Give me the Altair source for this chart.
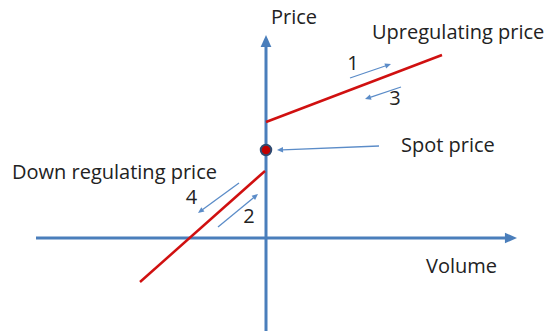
import altair as alt
import pandas as pd
import numpy as np

# Coordinate system: origin at axes crossing, units ~ volume / price (arbitrary)
# Axes (start -> tip)
axis_x1 = [-23.0, 0.0]
axis_y1 = [0.0, -9.3]
axis_x2 = [25.1, 0.0]
axis_y2 = [0.0, 20.3]

# Red price curves
curve_x1 = [0.0, -12.6]
curve_y1 = [11.6, -4.4]
curve_x2 = [17.6, -0.1]
curve_y2 = [18.3, 6.7]

# Small arrows (start -> tip): 1, 3, spot, 4, 2
arr_x1 = [8.4, 13.5, 11.3, -2.7, -4.8]
arr_y1 = [16.0, 15.1, 9.2, 5.5, 1.1]
arr_x2 = [12.5, 9.9, 1.1, -6.8, -0.8]
arr_y2 = [17.4, 13.9, 8.8, 2.5, 4.4]

# Spot price dot
spot_x = [0.0]
spot_y = [8.8]

# Labels
lab_text = ["Price", "Upregulating price", "Spot price", "Down regulating price", "Volume"]
lab_x = [0.5, 10.6, 13.5, -25.4, 16.0]
lab_y = [22.0, 20.5, 9.2, 6.5, -2.9]

num_text = ["1", "3", "4", "2"]
num_x = [8.7, 12.9, -7.45, -1.7]
num_y = [17.4, 13.9, 4.05, 2.15]

XD = [-25.8, 27.9]
YD = [-9.3, 22.4]

def arrows(x1, y1, x2, y2, head):
    x1 = np.array(x1); y1 = np.array(y1); x2 = np.array(x2); y2 = np.array(y2)
    dx = x2 - x1; dy = y2 - y1
    L = np.hypot(dx, dy)
    ux = dx / L; uy = dy / L
    ang = np.degrees(np.arctan2(dx, dy)) % 360
    return pd.DataFrame({
        "x": x1, "y": y1,
        "xe": x2 - ux * head * 0.9, "ye": y2 - uy * head * 0.9,
        "tx": x2, "ty": y2, "angle": ang,
    })

ax = arrows(axis_x1, axis_y1, axis_x2, axis_y2, 1.2)
sm = arrows(arr_x1, arr_y1, arr_x2, arr_y2, 0.6)

xs = alt.Scale(domain=XD, nice=False, zero=False)
ys = alt.Scale(domain=YD, nice=False, zero=False)

HEAD = "M0,0L0.8,1.8L-0.8,1.8Z"
BLUE = "#4a7ebb"
RED = "#d01010"
FONT = "Open Sans"

def shaft(df, width, color):
    return alt.Chart(df).mark_rule(strokeWidth=width, color=color).encode(
        x=alt.X("x:Q", scale=xs, axis=None), y=alt.Y("y:Q", scale=ys, axis=None),
        x2="xe:Q", y2="ye:Q")

def heads(df, size, color):
    return alt.Chart(df).mark_point(shape=HEAD, filled=True, opacity=1, size=size,
                                    color=color, strokeWidth=0).encode(
        x=alt.X("tx:Q", scale=xs, axis=None), y=alt.Y("ty:Q", scale=ys, axis=None),
        angle=alt.Angle("angle:Q", scale=None))

curves = pd.DataFrame({"x": curve_x1, "y": curve_y1, "x2": curve_x2, "y2": curve_y2})
red = alt.Chart(curves).mark_rule(strokeWidth=2.5, color=RED).encode(
    x=alt.X("x:Q", scale=xs, axis=None), y=alt.Y("y:Q", scale=ys, axis=None),
    x2="x2:Q", y2="y2:Q")

dot = alt.Chart(pd.DataFrame({"x": spot_x, "y": spot_y})).mark_point(
    shape="circle", filled=True, size=110, color="#c00000", stroke="#2f4a70",
    strokeWidth=2, opacity=1).encode(
    x=alt.X("x:Q", scale=xs, axis=None), y=alt.Y("y:Q", scale=ys, axis=None))

labels = alt.Chart(pd.DataFrame({"t": lab_text, "x": lab_x, "y": lab_y})).mark_text(
    align="left", baseline="middle", font=FONT, fontSize=20, color="#222222").encode(
    x=alt.X("x:Q", scale=xs, axis=None), y=alt.Y("y:Q", scale=ys, axis=None), text="t:N")

nums = alt.Chart(pd.DataFrame({"t": num_text, "x": num_x, "y": num_y})).mark_text(
    align="center", baseline="middle", font=FONT, fontSize=20, color="#222222").encode(
    x=alt.X("x:Q", scale=xs, axis=None), y=alt.Y("y:Q", scale=ys, axis=None), text="t:N")

chart = alt.layer(
    shaft(ax, 3, BLUE), heads(ax, 180, BLUE),
    red,
    shaft(sm, 1.3, "#5b8cc8"), heads(sm, 45, "#5b8cc8"),
    dot, labels, nums,
).properties(width=537, height=317,
             padding={"top": 6, "left": 0, "right": 0, "bottom": 0},
             autosize="none", background="white").configure_view(stroke=None)

chart.save("out.html", embed_options={"renderer": "svg", "actions": False})
